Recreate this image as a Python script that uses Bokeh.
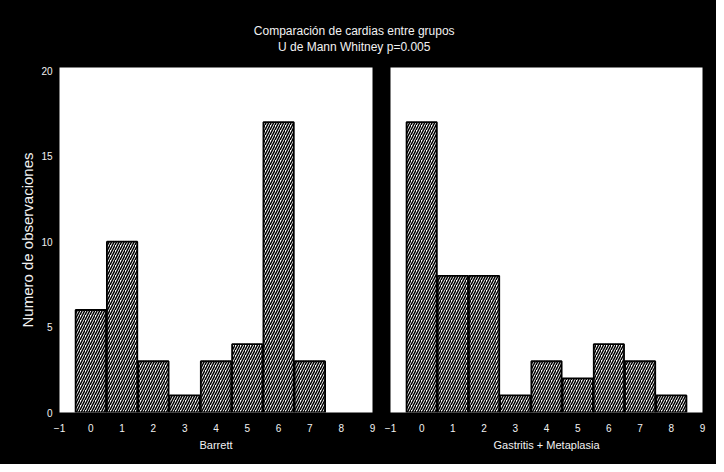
from bokeh.plotting import figure
from bokeh.layouts import column, row
from bokeh.models import Label, FixedTicker, Range1d, ColumnDataSource
from bokeh.embed import file_html
from bokeh.resources import INLINE

# ---- data ----
title_lines = ["Comparación de cardias entre grupos", "U de Mann Whitney p=0.005"]
y_axis_label = "Numero de observaciones"
barrett_label = "Barrett"
gm_label = "Gastritis + Metaplasia"
barrett_bins = [0, 1, 2, 3, 4, 5, 6, 7]
barrett_counts = [6, 10, 3, 1, 3, 4, 17, 3]
gm_bins = [0, 1, 2, 3, 4, 5, 6, 7, 8]
gm_counts = [17, 8, 8, 1, 3, 2, 4, 3, 1]
x_ticks = [-1, 0, 1, 2, 3, 4, 5, 6, 7, 8, 9]
y_ticks = [0, 5, 10, 15, 20]

FONT = "Liberation Sans"
TXT = "#f2f2f2"
BLACK_BG = {"background-color": "black"}

# ---- title strip ----
t = figure(width=716, height=60, x_range=Range1d(0, 1), y_range=Range1d(0, 1),
           toolbar_location=None, output_backend="svg", min_border=0,
           background_fill_color="black", border_fill_color="black",
           outline_line_color=None, styles=BLACK_BG)
t.axis.visible = False
t.grid.visible = False
for yy, txt in zip([0.5, 0.22], title_lines):
    t.add_layout(Label(x=0.494, y=yy, text=txt, text_align="center",
                       text_baseline="middle", text_color=TXT,
                       text_font=FONT, text_font_size="12px"))


def panel(bins, counts, xlabel, width, mbl, mbr, show_y):
    p = figure(width=width, height=404, x_range=Range1d(-1, 9), y_range=Range1d(0, 20.2),
               toolbar_location=None, output_backend="svg",
               min_border_left=mbl, min_border_right=mbr, min_border_top=7,
               min_border_bottom=52,
               background_fill_color="white", border_fill_color="black",
               outline_line_color=None, styles=BLACK_BG)
    p.grid.visible = False
    src = ColumnDataSource(dict(x=bins, top=counts))
    p.vbar(x="x", top="top", width=0.97, bottom=0, source=src,
           fill_color="white", line_color="black", line_width=1.8,
           hatch_pattern="/", hatch_color="black", hatch_scale=5, hatch_weight=1.5)
    ax = p.xaxis[0]
    ax.ticker = FixedTicker(ticks=x_ticks)
    ax.axis_label = xlabel
    for a in p.axis:
        a.axis_line_color = None
        a.major_tick_line_color = None
        a.minor_tick_line_color = None
        a.major_label_text_color = TXT
        a.major_label_text_font = FONT
        a.major_label_text_font_size = "10px"
        a.axis_label_text_color = TXT
        a.axis_label_text_font = FONT
        a.axis_label_text_font_style = "normal"
        a.axis_label_text_font_size = "11px"
        a.major_label_standoff = 5
        a.axis_label_standoff = 4
    if show_y:
        ya = p.yaxis[0]
        ya.ticker = FixedTicker(ticks=y_ticks)
        ya.axis_label = y_axis_label
        ya.axis_label_text_font_size = "15px"
        ya.major_label_standoff = 1
        ya.axis_label_standoff = 2
    else:
        p.yaxis.visible = False
    return p


p1 = panel(barrett_bins, barrett_counts, barrett_label, 381, 59, 9, True)
p2 = panel(gm_bins, gm_counts, gm_label, 335, 9, 14, False)

layout = column(t, row(p1, p2, styles=BLACK_BG), styles=BLACK_BG)
open("out.html", "w").write(file_html(layout, INLINE))
